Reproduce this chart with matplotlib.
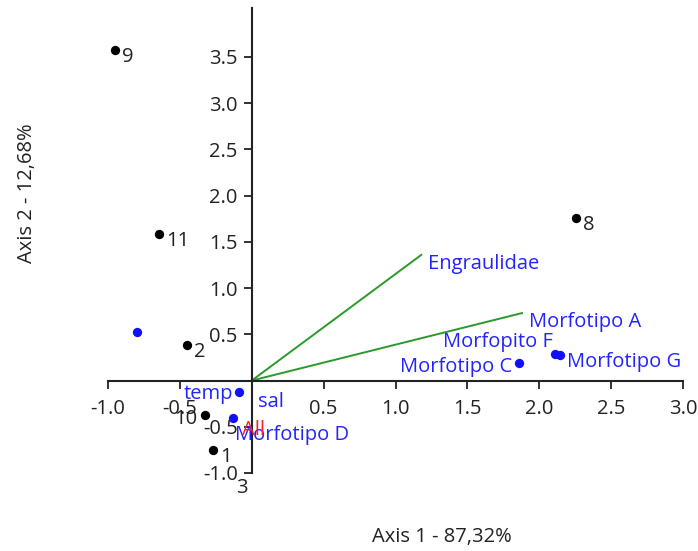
import matplotlib.pyplot as plt

plt.rcParams['font.family'] = ['Open Sans', 'DejaVu Sans']

# Образцы (чёрные точки)
sample_labels = ['9', '11', '2', '8', '10', '1', '3']
sample_x = [-0.95, -0.645, -0.45, 2.255, -0.325, -0.27, -0.16]
sample_y = [3.58, 1.58, 0.38, 1.76, -0.37, -0.75, -1.09]

# Таксоны / переменные (синие точки)
taxa_labels = ['', 'Morfotipo C', 'Morfopito F', 'Morfotipo G', 'temp', 'Morfotipo D']
taxa_x = [-0.80, 1.86, 2.11, 2.145, -0.09, -0.13]
taxa_y = [0.52, 0.195, 0.29, 0.28, -0.12, -0.40]

# Векторы (зелёные линии)
vector_labels = ['Engraulidae', 'Morfotipo A']
vector_x = [1.18, 1.88]
vector_y = [1.36, 0.73]

xticks = [-1.0, -0.5, 0.5, 1.0, 1.5, 2.0, 2.5, 3.0]
yticks = [-1.0, -0.5, 0.5, 1.0, 1.5, 2.0, 2.5, 3.0, 3.5]

fig = plt.figure(figsize=(6.98, 5.51), dpi=100)
ax = fig.add_axes([108 / 698, 78 / 551, 575 / 698, 465 / 551])
ax.set_xlim(-1.0, 3.0)
ax.set_ylim(-1.0, 4.03)

blue = '#2323ff'
fs = 14.5

# векторы
for lab, vx, vy in zip(vector_labels, vector_x, vector_y):
    ax.plot([0, vx], [0, vy], color='#2a9a2a', lw=1.4, zorder=2)
    ax.annotate(lab, (vx, vy), xytext=(7, -9), textcoords='offset pixels',
                ha='left', va='center', color=blue, fontsize=fs, annotation_clip=False)

# образцы
ax.scatter(sample_x, sample_y, s=45, color='black', zorder=3, linewidths=0)
sample_off = {'10': (-8, -4, 'right')}
for lab, sx, sy in zip(sample_labels, sample_x, sample_y):
    dx, dy, ha = sample_off.get(lab, (7, -7, 'left'))
    ax.annotate(lab, (sx, sy), xytext=(dx, dy), textcoords='offset pixels',
                ha=ha, va='center', color='#222222', fontsize=fs, annotation_clip=False)

# таксоны
ax.scatter(taxa_x, taxa_y, s=45, color='#1010ff', zorder=3, linewidths=0)
taxa_off = {
    'Morfotipo C': (-7, -4, 'right'),
    'Morfopito F': (-2, 12, 'right'),
    'Morfotipo G': (7, -7, 'left'),
    'temp': (-6, -2, 'right'),
    'Morfotipo D': (2, -17, 'left'),
}
for lab, tx, ty in zip(taxa_labels, taxa_x, taxa_y):
    if not lab:
        continue
    dx, dy, ha = taxa_off[lab]
    ax.annotate(lab, (tx, ty), xytext=(dx, dy), textcoords='offset pixels',
                ha=ha, va='center', color=blue, fontsize=fs, annotation_clip=False)

ax.annotate('sal', (taxa_x[4], taxa_y[4]), xytext=(19, -10), textcoords='offset pixels',
            ha='left', va='center', color=blue, fontsize=fs)
ax.text(0.01, -0.53, 'All', color='#ff2020', fontsize=fs, ha='center', va='center')

# оси через ноль
for side in ['top', 'right']:
    ax.spines[side].set_visible(False)
ax.spines['left'].set_position(('data', 0))
ax.spines['bottom'].set_position(('data', 0))
for side in ['left', 'bottom']:
    ax.spines[side].set_linewidth(1.5)
    ax.spines[side].set_color('#222222')
ax.set_xticks(xticks)
ax.set_yticks(yticks)
ax.set_xticklabels([f'{t:.1f}' for t in xticks])
ax.set_yticklabels([f'{t:.1f}' for t in yticks])
ax.tick_params(direction='out', length=6, width=1.3, color='#222222',
               labelsize=fs, labelcolor='#222222', pad=4)
ax.tick_params(axis='x', pad=7)

fig.text(442 / 698, 1 - 537 / 551, 'Axis 1 - 87,32%', ha='center', va='center',
         fontsize=fs, color='#222222')
fig.text(27 / 698, 1 - 193 / 551, 'Axis 2 - 12,68%', ha='center', va='center',
         rotation=90, fontsize=fs, color='#222222')

fig.savefig('out.png', dpi=100)
